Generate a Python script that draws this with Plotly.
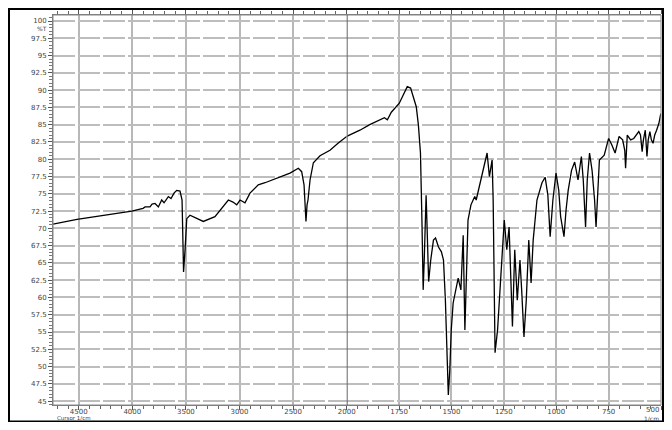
import plotly.graph_objects as go

# IR spectrum: wavenumber (1/cm) and transmittance (%T)
wavenumber = [4740, 4516, 4005, 3900, 3881, 3835, 3816, 3788, 3757, 3726, 3704, 3664, 3639, 3611, 3586, 3555,
              3536, 3524, 3522, 3508, 3492, 3462, 3406, 3338, 3229, 3104, 3061, 3026, 2995, 2949, 2902,
              2825, 2762, 2653, 2529, 2451, 2420, 2398, 2380, 2370, 2361, 2342, 2311, 2249, 2156, 2081, 2016,
              2000, 1937, 1890, 1843, 1820, 1806, 1787, 1749, 1731, 1711, 1695, 1684, 1668, 1658, 1648,
              1641, 1635, 1630, 1621, 1616, 1609, 1599, 1586, 1576, 1562, 1548, 1538, 1529, 1520, 1515,
              1508, 1501, 1492, 1477, 1468, 1455, 1444, 1436, 1430, 1421, 1407, 1389, 1382, 1369, 1358,
              1345, 1330, 1319, 1306, 1301, 1295, 1292, 1280, 1264, 1248, 1236, 1225, 1209, 1198, 1186,
              1173, 1165, 1154, 1143, 1131, 1120, 1110, 1092, 1068, 1053, 1040, 1029, 1016, 1001, 988,
              979, 963, 953, 943, 927, 912, 896, 880, 871, 860, 852, 841, 829, 817, 810, 803, 794, 771,
              750, 735, 719, 700, 683, 673, 669, 661, 645, 630, 606, 598, 590, 584, 575, 567, 561, 553,
              546, 538, 530, 521, 510, 501]
transmittance = [70.6, 71.3, 72.5, 72.9, 73.1, 73.1, 73.5, 73.6, 73.1, 74.1, 73.7, 74.6, 74.3, 75.1, 75.5, 75.4,
                 74.1, 67.6, 63.7, 66.9, 71.4, 71.9, 71.5, 71.0, 71.7, 74.1, 73.8, 73.4, 74.1, 73.7, 75.1,
                 76.3, 76.6, 77.3, 78.0, 78.7, 78.2, 76.3, 71.0, 73.4, 74.1, 77.0, 79.5, 80.5, 81.3, 82.3, 83.2,
                 83.3, 84.2, 85.0, 85.7, 86.0, 85.7, 86.8, 88.1, 89.3, 90.5, 90.3, 89.3, 87.6, 85.0, 80.9,
                 71.2, 61.1, 65.4, 74.8, 69.8, 62.3, 65.4, 68.3, 68.6, 67.3, 66.6, 65.4, 59.6, 50.9, 45.9,
                 49.5, 55.3, 59.2, 61.8, 62.8, 61.1, 69.0, 55.3, 61.1, 71.2, 73.4, 74.6, 74.1, 75.8, 77.5,
                 79.2, 80.9, 77.5, 79.9, 74.1, 56.7, 52.0, 55.3, 64.0, 71.2, 66.9, 70.2, 55.8, 66.9, 59.6,
                 65.4, 61.1, 54.3, 59.6, 68.3, 62.1, 68.3, 74.1, 76.6, 77.4, 74.8, 68.8, 74.1, 78.0, 75.5,
                 71.7, 68.8, 72.7, 75.5, 78.4, 79.6, 77.0, 80.4, 77.0, 70.2, 77.0, 80.9, 78.4, 74.1, 70.2, 75.5, 79.9, 80.6,
                 83.0, 82.1, 80.9, 83.3, 82.8, 81.3, 78.7, 83.5, 82.8, 83.0, 84.0, 83.5, 81.1, 82.8, 84.2, 80.4, 82.8, 84.0,
                 82.8, 82.3, 83.5, 84.2, 85.2, 86.6]

left_ticks = [4500, 4000, 3500, 3000, 2500]
right_ticks = [2000, 1750, 1500, 1250, 1000, 750, 500]
y_ticks = [45 + 2.5 * i for i in range(23)]
y_labels = [("%g" % v) for v in y_ticks]

wn_hi = [w for w in wavenumber if w >= 2000]
t_hi = [t for w, t in zip(wavenumber, transmittance) if w >= 2000]
wn_lo = [w for w in wavenumber if w <= 2000]
t_lo = [t for w, t in zip(wavenumber, transmittance) if w <= 2000]

fig = go.Figure()
line = dict(color="black", width=1.3)
fig.add_trace(go.Scatter(x=wn_hi, y=t_hi, mode="lines", line=line, xaxis="x", yaxis="y", showlegend=False))
fig.add_trace(go.Scatter(x=wn_lo, y=t_lo, mode="lines", line=line, xaxis="x2", yaxis="y", showlegend=False))

L, R, T, B, W, H = 45, 3, 7, 17, 656, 414
pw = W - L - R
ph = H - T - B
split = (338.7 - L) / pw
tickfont = dict(family="DejaVu Sans", size=7, color="#444")
xcommon = dict(showgrid=True, gridcolor="#b8b8b8", gridwidth=1.5, zeroline=False,
               ticks="outside", ticklen=4, tickcolor="#555", tickfont=tickfont, ticklabelstandoff=-4,
               showline=True, linecolor="#777", linewidth=1, mirror="ticks")

small = dict(family="DejaVu Sans", size=6, color="#444")

fig.update_layout(
    width=W, height=H,
    margin=dict(l=L, r=R, t=T, b=B),
    paper_bgcolor="white", plot_bgcolor="white",
    xaxis=dict(domain=[0, split], range=[4740, 2000], tickmode="array", tickvals=left_ticks,
               ticktext=[str(v) for v in left_ticks], anchor="y",
               minor=dict(dtick=100, tick0=0, ticks="outside", ticklen=3, tickcolor="#666", showgrid=False),
               **xcommon),
    xaxis2=dict(domain=[split, 1], range=[2000, 500], tickmode="array", tickvals=right_ticks,
                ticktext=[str(v) if v != 500 else "" for v in right_ticks], anchor="y",
                minor=dict(dtick=50, tick0=0, ticks="outside", ticklen=3, tickcolor="#666", showgrid=False),
                **xcommon),
    yaxis=dict(range=[44.44, 100.87], tickmode="array", tickvals=y_ticks, ticktext=y_labels,
               showgrid=True, gridcolor="#bdbdbd", gridwidth=1.5, griddash="22px,3px",
               zeroline=False, ticks="outside", ticklen=4, tickcolor="#555", tickfont=tickfont,
               minor=dict(dtick=0.5, tick0=0, ticks="outside", ticklen=3, tickcolor="#777", showgrid=False),
               showline=True, linecolor="#777", linewidth=1),
    shapes=[
        dict(type="rect", xref="paper", yref="paper", x0=0, x1=1, y0=0, y1=1,
             line=dict(color="#888", width=1)),
        dict(type="line", xref="x2", yref="paper", x0=2000, x1=2000, y0=0, y1=1,
             line=dict(color="#666", width=2)),
        dict(type="rect", xref="paper", yref="paper",
             x0=(1 - L) / pw, x1=(655 - L) / pw, y0=(ph + T - 413.5) / ph, y1=(ph + T - 1) / ph,
             line=dict(color="black", width=2)),
    ],
    annotations=[
        dict(text="%T", xref="paper", yref="paper", x=(27 - L) / pw, y=(ph + T - 21) / ph,
             yanchor="middle", showarrow=False, font=small),
        dict(text=str(right_ticks[-1]), xref="paper", yref="paper", x=1.0, y=(ph + T - 402) / ph,
             xanchor="right", yanchor="middle", showarrow=False, font=tickfont),
        dict(text="1/cm", xref="paper", yref="paper", x=1.0, y=(ph + T - 410) / ph,
             xanchor="right", yanchor="middle", showarrow=False, font=small),
        dict(text="Cursor 1/cm", xref="paper", yref="paper", x=(47 - L) / pw, y=(ph + T - 410) / ph,
             xanchor="left", yanchor="middle", showarrow=False, font=dict(family="DejaVu Sans", size=5.5, color="#444")),
    ],
)

fig.write_html("out.html")
